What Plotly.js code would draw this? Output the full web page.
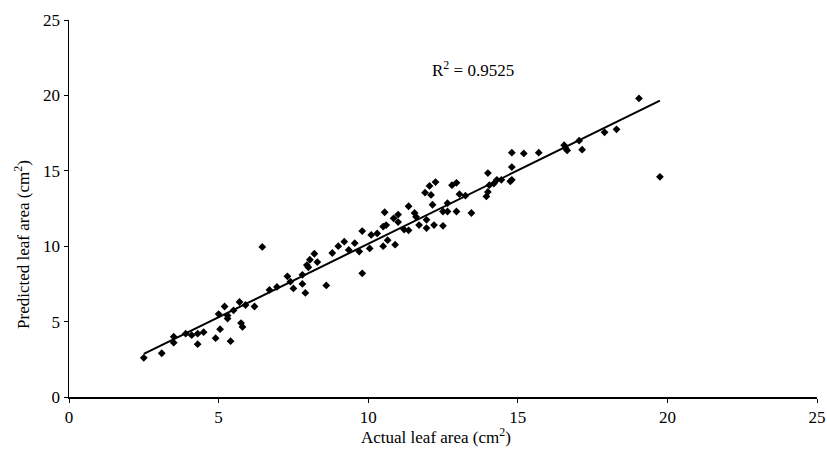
<!DOCTYPE html>
<html>
<head>
<meta charset="utf-8">
<script src="https://cdn.plot.ly/plotly-3.0.1.min.js"></script>
<style>html,body{margin:0;padding:0;background:#fff;}#chart{width:827px;height:449px;}</style>
</head>
<body>
<div id="chart"></div>
<script>
var actualArea = [2.5,3.1,3.5,3.5,3.9,4.1,4.3,4.3,4.5,4.9,5.05,5.4,5.0,5.2,5.3,5.3,5.5,5.7,5.75,5.8,5.9,6.2,6.46,6.7,6.95,7.3,7.4,7.5,7.8,7.9,7.8,7.95,8.0,8.05,8.2,8.3,8.6,8.8,9.0,9.2,9.35,9.55,9.7,9.8,9.8,10.05,10.1,10.3,10.5,10.6,10.65,10.5,10.9,10.55,10.85,11.0,11.0,11.35,11.35,11.2,11.55,11.6,11.7,11.95,11.95,11.9,12.05,12.25,12.1,12.15,12.2,12.5,12.5,12.65,12.65,12.95,12.8,12.95,13.05,13.25,13.45,13.95,14.0,14.05,14.0,14.2,14.3,14.45,14.8,14.75,14.8,14.8,15.2,15.7,16.55,16.6,16.65,17.05,17.15,17.9,18.3,19.05,19.75];
var predictedArea = [2.6,2.9,3.6,4.0,4.2,4.1,3.5,4.2,4.3,3.9,4.5,3.7,5.5,6.0,5.2,5.4,5.75,6.3,4.9,4.65,6.1,6.0,9.95,7.1,7.3,8.0,7.65,7.2,7.5,6.9,8.1,8.75,8.6,9.1,9.5,8.95,7.4,9.55,10.0,10.3,9.75,10.2,9.65,8.2,11.0,9.85,10.75,10.85,11.3,11.4,10.4,10.0,10.1,12.25,11.85,12.1,11.6,12.65,11.05,11.1,12.2,11.95,11.4,11.75,11.2,13.55,14.0,14.25,13.4,12.75,11.4,11.35,12.3,12.3,12.85,12.3,14.05,14.2,13.45,13.35,12.2,13.3,13.6,14.05,14.85,14.15,14.4,14.4,14.4,14.3,15.25,16.2,16.15,16.2,16.7,16.5,16.35,17.0,16.4,17.55,17.75,19.8,14.6];
var axisTicks = [0,5,10,15,20,25];
var r2Label = "R<sup>2</sup> = 0.9525";

// least-squares trend line
var n = actualArea.length, sx=0, sy=0, sxx=0, sxy=0;
for (var i=0;i<n;i++){sx+=actualArea[i];sy+=predictedArea[i];sxx+=actualArea[i]*actualArea[i];sxy+=actualArea[i]*predictedArea[i];}
var slope = (n*sxy - sx*sy)/(n*sxx - sx*sx);
var intercept = (sy - slope*sx)/n;
var xmin = Math.min.apply(null, actualArea), xmax = Math.max.apply(null, actualArea);

var font = "Liberation Serif, Times New Roman, serif";
var data = [
  {x: actualArea, y: predictedArea, type:'scatter', mode:'markers',
   marker:{symbol:'diamond', size:6, color:'#000'}, hoverinfo:'x+y'},
  {x:[xmin,xmax], y:[slope*xmin+intercept, slope*xmax+intercept], type:'scatter', mode:'lines',
   line:{color:'#000', width:2}, hoverinfo:'skip'}
];
var axisCommon = {range:[0,25], tickvals:axisTicks, showgrid:false, zeroline:false,
  showline:true, linecolor:'#000', linewidth:1.5, ticks:'outside', ticklen:4, tickcolor:'#000',
  tickfont:{family:font, size:17, color:'#000'}, ticklabeloverflow:'allow'};
var layout = {
  width:827, height:449, margin:{l:69, r:10, t:20, b:52},
  paper_bgcolor:'#fff', plot_bgcolor:'#fff', showlegend:false,
  xaxis: Object.assign({}, axisCommon),
  yaxis: Object.assign({}, axisCommon),
  annotations:[
    {text:r2Label, x:13.5, y:21.75, xref:'x', yref:'y', showarrow:false,
     font:{family:font, size:17, color:'#000'}},
    {text:"Actual leaf area (cm<sup>2</sup>)", x:0.49, y:-0.103, xref:'paper', yref:'paper',
     xanchor:'center', yanchor:'middle', showarrow:false, font:{family:font, size:17, color:'#000'}},
    {text:"Predicted leaf area (cm<sup>2</sup>)", x:-0.062, y:0.405, xref:'paper', yref:'paper',
     xanchor:'center', yanchor:'middle', textangle:-90, showarrow:false, font:{family:font, size:17, color:'#000'}}
  ]
};
Plotly.newPlot('chart', data, layout, {displayModeBar:false, staticPlot:true});
</script>
</body>
</html>
